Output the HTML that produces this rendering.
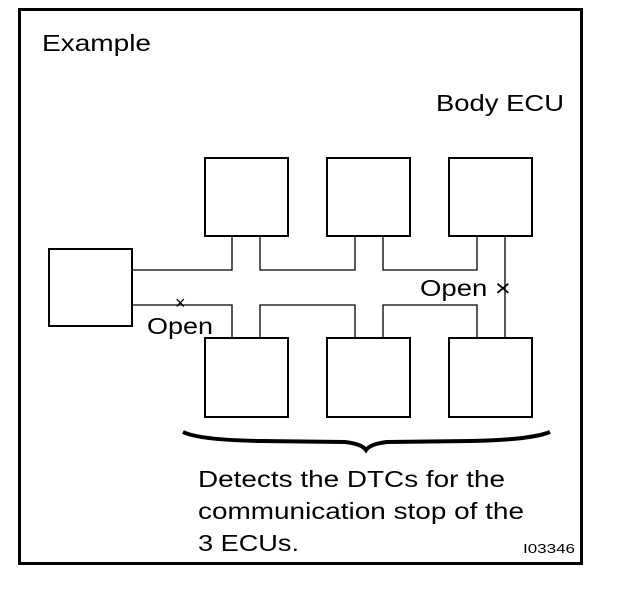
<!DOCTYPE html>
<html><head><meta charset="utf-8"><style>
html,body{margin:0;padding:0;background:#fff;}
svg{display:block;}
text{font-family:"Liberation Sans",Arial,sans-serif;fill:#000;}
</style></head><body>
<svg width="624" height="598" viewBox="0 0 624 598" xmlns="http://www.w3.org/2000/svg">
<rect x="19.5" y="9.5" width="562" height="554" fill="none" stroke="#000" stroke-width="3"/>
<text x="42" y="51" font-size="23" textLength="109" lengthAdjust="spacingAndGlyphs">Example</text>
<text x="436" y="111" font-size="23" textLength="128" lengthAdjust="spacingAndGlyphs">Body ECU</text>
<g fill="none" stroke="#000" stroke-width="2">
<rect x="49" y="249" width="83" height="77"/>
<rect x="205" y="158" width="83" height="78"/>
<rect x="327" y="158" width="83" height="78"/>
<rect x="449" y="158" width="83" height="78"/>
<rect x="205" y="338" width="83" height="79"/>
<rect x="327" y="338" width="83" height="79"/>
<rect x="449" y="338" width="83" height="79"/>
</g>
<g fill="none" stroke="#000" stroke-width="1.3">
<polyline points="132,270 232,270 232,236"/>
<polyline points="260,236 260,270 355,270 355,236"/>
<polyline points="383,236 383,270 477,270 477,236"/>
<polyline points="132,305 232,305 232,338"/>
<polyline points="260,338 260,305 355,305 355,338"/>
<polyline points="383,338 383,305 477,305 477,338"/>
<line x1="505" y1="236" x2="505" y2="338"/>
</g>
<text x="175" y="309" font-size="18">×</text>
<text x="147" y="334" font-size="23" textLength="66" lengthAdjust="spacingAndGlyphs">Open</text>
<text x="420" y="296" font-size="23" textLength="91" lengthAdjust="spacingAndGlyphs">Open ×</text>
<path d="M183,432 Q200,440 260,441 L345,442 Q362,444 366,450 Q370,444 387,442 L470,441 Q530,440 550,432" fill="none" stroke="#000" stroke-width="4"/>
<text x="198" y="487" font-size="23" textLength="307" lengthAdjust="spacingAndGlyphs">Detects the DTCs for the</text>
<text x="198" y="519" font-size="23" textLength="326" lengthAdjust="spacingAndGlyphs">communication stop of the</text>
<text x="198" y="551" font-size="23" textLength="101" lengthAdjust="spacingAndGlyphs">3 ECUs.</text>
<text x="523" y="553" font-size="13" textLength="52" lengthAdjust="spacingAndGlyphs">I03346</text>
</svg>
</body></html>
